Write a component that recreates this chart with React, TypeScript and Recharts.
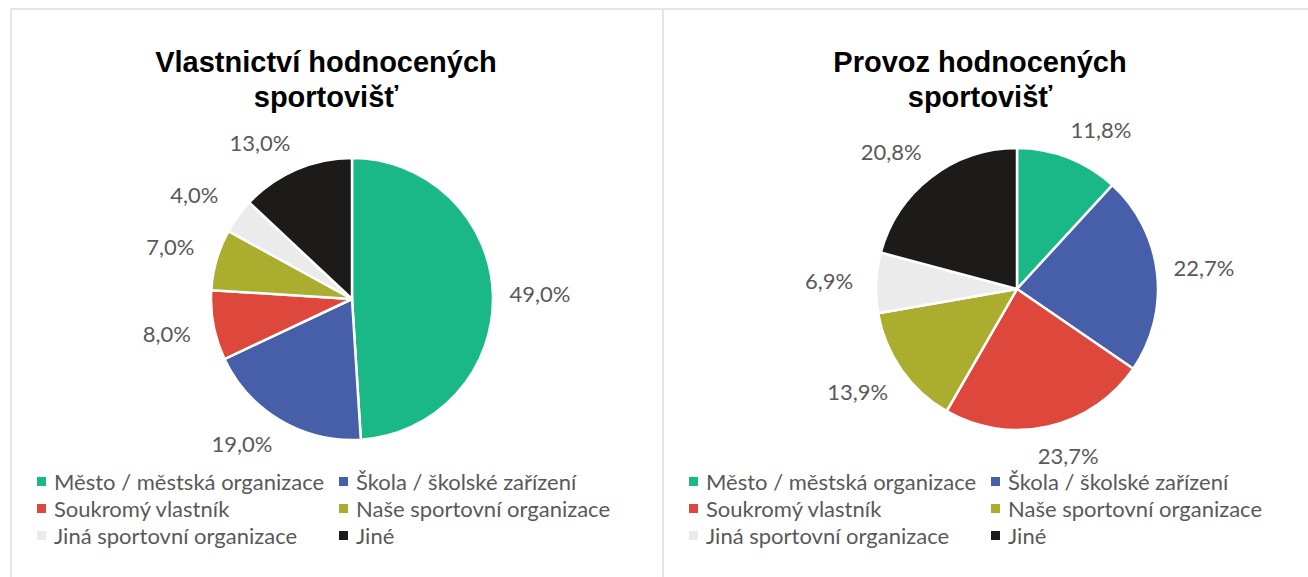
import React from "react";
import { PieChart, Pie, Cell, Legend } from "recharts";

const categories = [
  "Město / městská organizace",
  "Škola / školské zařízení",
  "Soukromý vlastník",
  "Naše sportovní organizace",
  "Jiná sportovní organizace",
  "Jiné",
];
const ownershipValues = [49.0, 19.0, 8.0, 7.0, 4.0, 13.0];
const operationValues = [11.8, 22.7, 23.7, 13.9, 6.9, 20.8];
const colors = ["#19B886", "#475EA9", "#DE473B", "#AAAD2D", "#EBEBEB", "#1D1B1A"];
const titles = ["Vlastnictví hodnocených sportovišť", "Provoz hodnocených sportovišť"];
const titleLines = [
  ["Vlastnictví hodnocených", "sportovišť"],
  ["Provoz hodnocených", "sportovišť"],
];

const RAD = Math.PI / 180;
const LABEL_FONT = "Lato, 'Noto Sans', sans-serif";
const clamp1 = (v: number) => Math.max(-1, Math.min(1, v));

const buildData = (values: number[]) =>
  categories.map((name, i) => ({ name, value: values[i], fill: colors[i] }));

// label box placed just outside the slice edge ("outside end"), kept above the plot-area bottom
const makeLabel = (maxY: number) => (props: any) => {
  const { cx, cy, midAngle, outerRadius, value } = props;
  const c = Math.cos(-midAngle * RAD);
  const s = Math.sin(-midAngle * RAD);
  const r = outerRadius + 18;
  const x = cx + r * c + 29 * clamp1(c * 2.5);
  const y = Math.min(cy + r * s + 11 * clamp1(s * 2.5), maxY);
  return (
    <text
      x={x}
      y={y}
      textAnchor="middle"
      dominantBaseline="central"
      fill="#595959"
      fontSize={22}
      fontFamily={LABEL_FONT}
    >
      {value.toFixed(1).replace(".", ",") + "%"}
    </text>
  );
};

const renderLegend = (props: any) => {
  const payload = [...(props.payload || [])].sort(
    (a: any, b: any) => categories.indexOf(a.value) - categories.indexOf(b.value)
  );
  return (
    <div
      style={{
        display: "grid",
        gridTemplateColumns: "302px 302px",
        fontFamily: LABEL_FONT,
        fontSize: 22,
        color: "#595959",
      }}
    >
      {payload.map((e: any, i: number) => (
        <div key={i} style={{ display: "flex", alignItems: "center", height: 27, whiteSpace: "nowrap" }}>
          <span style={{ display: "inline-block", width: 9, height: 9, background: e.color, marginRight: 8 }} />
          <span>{e.value}</span>
        </div>
      ))}
    </div>
  );
};

const Panel = ({
  values,
  lines,
  cx,
  cy,
  titleWidth,
  labelMaxY,
}: {
  values: number[];
  lines: string[];
  cx: number;
  cy: number;
  titleWidth: number;
  labelMaxY: number;
}) => {
  const data = buildData(values);
  return (
    <div style={{ position: "relative", width: 650, height: 580 }}>
      <div
        style={{
          position: "absolute",
          left: 0,
          top: 35,
          width: titleWidth,
          textAlign: "center",
          fontFamily: "'Liberation Sans', Arial, sans-serif",
          fontWeight: "bold",
          fontSize: 29,
          lineHeight: "35px",
          color: "#000",
        }}
      >
        {lines.map((l, i) => (
          <div key={i}>{l}</div>
        ))}
      </div>
      <div style={{ position: "absolute", left: 0, top: 0 }}>
        <PieChart width={650} height={580}>
          <Pie
            data={data}
            dataKey="value"
            nameKey="name"
            cx={cx}
            cy={cy}
            outerRadius={141}
            startAngle={90}
            endAngle={-270}
            stroke="#ffffff"
            strokeWidth={2.5}
            label={makeLabel(labelMaxY)}
            labelLine={false}
            isAnimationActive={false}
          >
            {data.map((d, i) => (
              <Cell key={i} fill={d.fill} />
            ))}
          </Pie>
          <Legend
            content={renderLegend}
            itemSorter={null as any}
            wrapperStyle={{ position: "absolute", left: 25, top: 458, width: 620 }}
          />
        </PieChart>
      </div>
    </div>
  );
};

export default function App() {
  return (
    <div
      style={{
        position: "absolute",
        left: 10,
        top: 8,
        width: 1298,
        height: 569,
        overflow: "hidden",
        background: "#fff",
      }}
      aria-label={titles.join(" / ")}
    >
      <div
        style={{
          position: "absolute",
          left: 0,
          top: 0,
          width: 650,
          height: 580,
          border: "2px solid #E4E4E4",
        }}
      >
        <Panel values={ownershipValues} lines={titleLines[0]} cx={335} cy={284} titleWidth={628} labelMaxY={433} />
      </div>
      <div
        style={{
          position: "absolute",
          left: 654,
          top: 0,
          width: 650,
          height: 580,
          borderTop: "2px solid #E4E4E4",
          borderRight: "2px solid #E4E4E4",
          borderBottom: "2px solid #E4E4E4",
        }}
      >
        <Panel values={operationValues} lines={titleLines[1]} cx={348} cy={274} titleWidth={632} labelMaxY={445} />
      </div>
    </div>
  );
}
